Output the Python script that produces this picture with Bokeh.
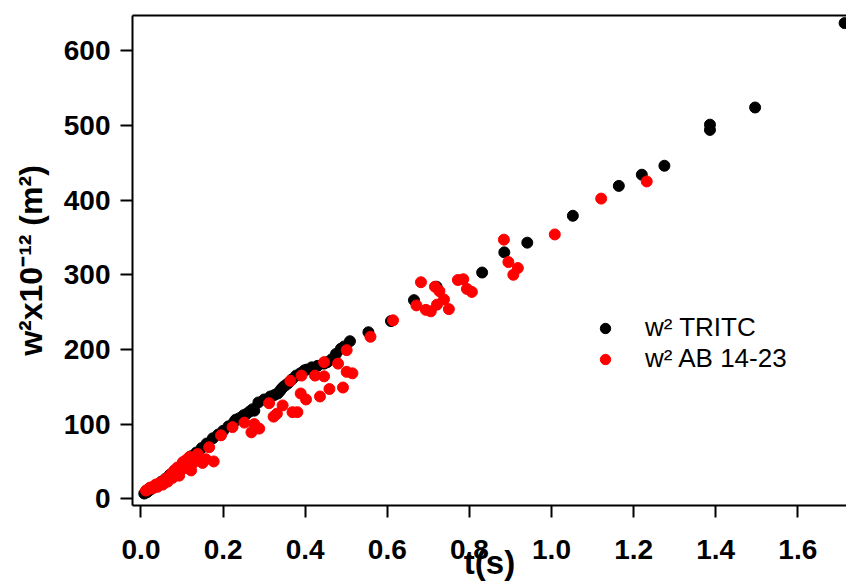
from bokeh.plotting import figure
from bokeh.models import Range1d, LinearAxis, FixedTicker, NumeralTickFormatter
from bokeh.embed import file_html
from bokeh.resources import INLINE

# ---- data ----
tritc_t = [0.008, 0.015, 0.022, 0.030, 0.040, 0.050, 0.060, 0.070, 0.080, 0.090,
           0.100, 0.112, 0.122, 0.135, 0.148, 0.160, 0.175, 0.188, 0.200, 0.213,
           0.227, 0.231, 0.240, 0.250, 0.258, 0.265, 0.272, 0.276, 0.286, 0.300,
           0.315, 0.325, 0.333, 0.338, 0.342, 0.347, 0.352, 0.359, 0.368, 0.378,
           0.388, 0.398, 0.404, 0.416, 0.430, 0.446, 0.454, 0.465, 0.475, 0.487,
           0.495, 0.509, 0.554, 0.609, 0.665, 0.720, 0.831, 0.885, 0.941, 1.052,
           1.164, 1.220, 1.275, 1.386, 1.386, 1.496, 1.714]
tritc_w2 = [7, 9, 12, 15, 19, 23, 27, 32, 36, 41,
            45, 51, 57, 62, 68, 74, 81, 86, 91, 97,
            103, 106, 108, 112, 114, 117, 120, 118, 129, 133,
            137, 139, 141, 144, 147, 150, 152, 155, 160, 165,
            168, 172, 173, 176, 178, 181, 183, 187, 194, 201,
            204, 211, 223, 238, 266, 284, 303, 330, 343, 379,
            419, 434, 446, 494, 501, 524, 637]

ab_t = [0.012, 0.018, 0.022, 0.028, 0.032, 0.036, 0.040, 0.045, 0.049, 0.053,
        0.057, 0.061, 0.065, 0.070, 0.073, 0.077, 0.081, 0.085, 0.089, 0.093,
        0.097, 0.102, 0.106, 0.110, 0.115, 0.118, 0.122, 0.127, 0.131, 0.138,
        0.150, 0.158, 0.166, 0.177, 0.195, 0.223, 0.252, 0.269, 0.276, 0.288,
        0.312, 0.323, 0.331, 0.345, 0.364, 0.369, 0.381, 0.389, 0.391, 0.402,
        0.424, 0.436, 0.446, 0.446, 0.459, 0.480, 0.492, 0.501, 0.501, 0.515,
        0.559, 0.614, 0.671, 0.682, 0.694, 0.706, 0.716, 0.721, 0.727, 0.738,
        0.750, 0.772, 0.785, 0.794, 0.806, 0.884, 0.895, 0.907, 0.918, 1.008,
        1.121, 1.232]
ab_w2 = [11, 13, 15, 14, 17, 19, 16, 21, 22, 19,
         25, 27, 23, 30, 33, 28, 38, 35, 42, 31,
         38, 49, 45, 52, 41, 56, 38, 48, 55, 60,
         48, 53, 69, 50, 85, 96, 102, 89, 100, 94,
         128, 110, 114, 125, 158, 116, 116, 141, 165, 133,
         165, 137, 183, 164, 147, 181, 149, 170, 199, 168,
         217, 239, 259, 290, 253, 251, 284, 260, 278, 267,
         254, 293, 294, 281, 277, 347, 317, 300, 309, 354,
         402, 425]

x_ticks = [0.0, 0.2, 0.4, 0.6, 0.8, 1.0, 1.2, 1.4, 1.6]
y_ticks = [0, 100, 200, 300, 400, 500, 600]

series_names = ["w² TRITC", "w² AB 14-23"]
x_title = "t(s)"
y_title = "w²x10⁻¹² (m²)"

FONT = "Liberation Sans"

p = figure(width=846, height=583,
           x_range=Range1d(-0.0207, 1.7186), y_range=Range1d(-9.0, 647.2),
           output_backend="svg", toolbar_location=None,
           min_border_left=132, min_border_right=0,
           min_border_top=15, min_border_bottom=78)
p.outline_line_color = None
p.xgrid.visible = False
p.ygrid.visible = False
p.background_fill_color = "white"
p.border_fill_color = "white"

p.scatter(tritc_t, tritc_w2, size=11, color="black", line_width=1,
          legend_label=series_names[0])
p.scatter(ab_t, ab_w2, size=11, color="red", line_width=1,
          legend_label=series_names[1])

for ax in (p.xaxis[0], p.yaxis[0]):
    ax.axis_line_width = 2
    ax.axis_line_color = "black"
    ax.major_tick_line_width = 2
    ax.major_tick_line_color = "black"
    ax.major_tick_out = 12
    ax.major_tick_in = 0
    ax.minor_tick_line_color = None
    ax.major_label_text_font = FONT
    ax.major_label_text_font_style = "bold"
    ax.major_label_text_font_size = "28px"
    ax.major_label_text_color = "black"
    ax.axis_label_text_font = FONT
    ax.axis_label_text_font_style = "bold"
    ax.axis_label_text_color = "black"

p.xaxis[0].ticker = FixedTicker(ticks=x_ticks)
p.xaxis[0].formatter = NumeralTickFormatter(format="0.0")
p.xaxis[0].major_label_standoff = 22
p.xaxis[0].axis_label = x_title
p.xaxis[0].axis_label_text_font_size = "33px"
p.xaxis[0].axis_label_standoff = -18

p.yaxis[0].ticker = FixedTicker(ticks=y_ticks)
p.yaxis[0].major_label_standoff = 10
p.yaxis[0].axis_label = y_title
p.yaxis[0].axis_label_text_font_size = "32px"
p.yaxis[0].axis_label_standoff = 12

# top spine
top = LinearAxis(ticker=FixedTicker(ticks=[]), axis_line_width=2,
                 axis_line_color="black", major_tick_line_color=None,
                 minor_tick_line_color=None, major_label_standoff=0,
                 major_label_text_font_size="0px")
p.add_layout(top, "above")

lg = p.legend[0]
lg.location = (460, 131)
lg.border_line_color = None
lg.background_fill_alpha = 0
lg.padding = 0
lg.margin = 0
lg.spacing = 0
lg.glyph_width = 26
lg.glyph_height = 26
lg.label_height = 26
lg.label_standoff = 27
lg.label_text_font = FONT
lg.label_text_font_size = "26px"
lg.label_text_color = "black"

open("out.html", "w").write(file_html(p, INLINE))
